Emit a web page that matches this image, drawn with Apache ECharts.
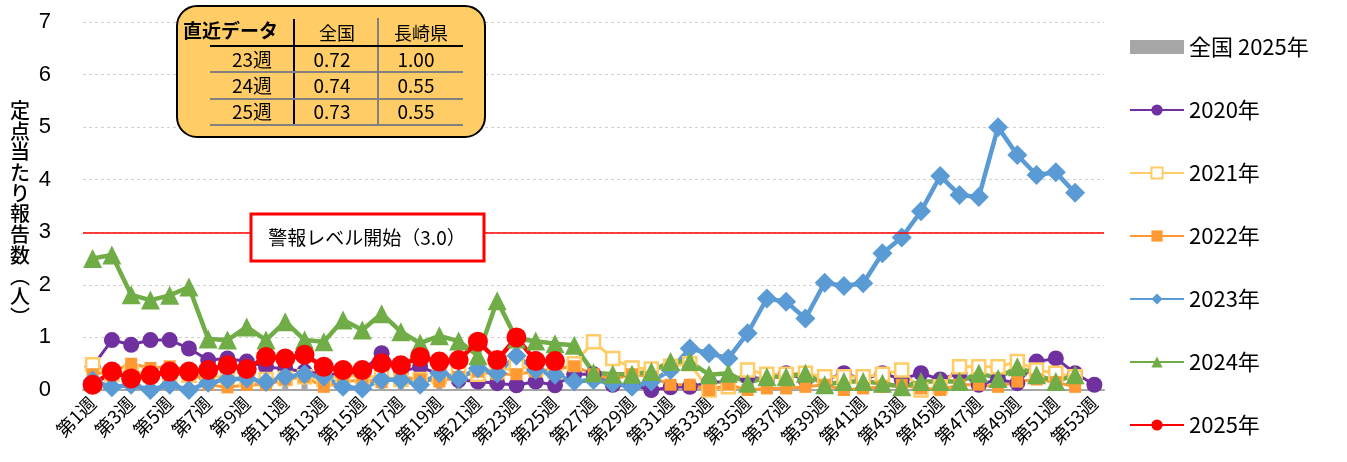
<!DOCTYPE html>
<html><head><meta charset="utf-8">
<script src="https://cdn.jsdelivr.net/npm/echarts@6/dist/echarts.min.js"></script>
<style>html,body{margin:0;padding:0;background:#fff}#c{width:1347px;height:462px}</style>
</head><body><div id="c"></div>
<script>
const weeks = ['第1週','第2週','第3週','第4週','第5週','第6週','第7週','第8週','第9週','第10週',
'第11週','第12週','第13週','第14週','第15週','第16週','第17週','第18週','第19週','第20週',
'第21週','第22週','第23週','第24週','第25週','第26週','第27週','第28週','第29週','第30週',
'第31週','第32週','第33週','第34週','第35週','第36週','第37週','第38週','第39週','第40週',
'第41週','第42週','第43週','第44週','第45週','第46週','第47週','第48週','第49週','第50週',
'第51週','第52週','第53週'];
const yTicks = [0,1,2,3,4,5,6,7];
const national2025 = [0.2,0.2,0.2,0.2,0.2,0.22,0.25,0.27,0.28,0.3,0.32,0.33,0.33,0.32,0.3,0.31,0.35,0.4,0.45,0.5,0.58,0.65,0.72,0.74,0.73];
const y2020 = [0.45,0.95,0.86,0.95,0.95,0.79,0.57,0.6,0.54,0.44,0.4,0.35,0.3,0.3,0.35,0.7,0.35,0.44,0.3,0.19,0.16,0.13,0.09,0.16,0.09,0.3,0.3,0.1,0.1,0.0,0.05,0.06,0.15,0.15,0.25,0.2,0.32,0.2,0.19,0.32,0.2,0.32,0.2,0.32,0.2,0.32,0.1,0.2,0.13,0.54,0.6,0.32,0.1];
const y2021 = [0.48,0.3,0.35,0.3,0.3,0.28,0.25,0.25,0.2,0.2,0.22,0.25,0.2,0.28,0.25,0.25,0.2,0.2,0.25,0.3,0.3,0.35,0.45,0.4,0.35,0.5,0.92,0.6,0.42,0.4,0.45,0.5,0.0,0.06,0.38,0.3,0.3,0.32,0.25,0.25,0.25,0.3,0.38,0.0,0.06,0.44,0.44,0.44,0.54,0.38,0.32,0.25,null];
const y2022 = [0.3,0.35,0.5,0.42,0.45,0.38,0.1,0.05,0.1,0.1,0.2,0.25,0.06,0.15,0.2,0.15,0.25,0.2,0.16,0.25,0.35,0.3,0.3,0.35,0.4,0.45,0.3,0.2,0.3,0.25,0.1,0.1,0.0,0.1,0.0,0.03,0.03,0.06,0.1,0.0,0.03,0.06,0.1,0.03,0.0,0.1,0.1,0.06,0.16,0.2,0.15,0.06,null];
const y2023 = [0.18,0.05,0.1,0.0,0.1,0.0,0.14,0.2,0.22,0.15,0.25,0.3,0.25,0.06,0.03,0.2,0.19,0.1,0.32,0.22,0.41,0.32,0.65,0.38,0.29,0.16,0.19,0.13,0.06,0.16,0.38,0.79,0.7,0.6,1.08,1.74,1.68,1.36,2.04,1.98,2.03,2.6,2.9,3.4,4.07,3.71,3.67,5.0,4.47,4.09,4.14,3.75,null];
const y2024 = [2.5,2.57,1.81,1.71,1.8,1.96,0.97,0.95,1.2,0.95,1.3,0.95,0.92,1.33,1.14,1.45,1.11,0.89,1.03,0.93,0.65,1.7,0.97,0.93,0.88,0.85,0.33,0.3,0.3,0.35,0.54,0.54,0.29,0.32,0.13,0.25,0.25,0.32,0.1,0.16,0.16,0.13,0.06,0.16,0.16,0.16,0.32,0.22,0.44,0.29,0.16,0.29,null];
const y2025 = [0.1,0.35,0.22,0.28,0.35,0.35,0.38,0.47,0.4,0.63,0.6,0.67,0.44,0.38,0.38,0.51,0.47,0.63,0.54,0.57,0.92,0.57,1.0,0.55,0.55];
const THRESHOLD = 3.0;
const tableHeader = ['直近データ','全国','長崎県'];
const tableRows = [['23週','0.72','1.00'],['24週','0.74','0.55'],['25週','0.73','0.55']];
const yAxisTitle = ['定','点','当','た','り','報','告','数','︵','人','︶'];

const FF = '"Noto Sans CJK JP", sans-serif';
const chart = echarts.init(document.getElementById('c'), null, {renderer:'canvas'});

function lineSeries(name, data, color, symbol, size, width, extra) {
  return Object.assign({
    name, type:'line', data, symbol, symbolSize:size, showSymbol:true, showAllSymbol:true,
    lineStyle:{color, width}, itemStyle:{color}, connectNulls:false
  }, extra||{});
}

const graphic = [];
graphic.push({type:'rect', shape:{x:177,y:6,width:308,height:131,r:20}, style:{fill:'#FFCC66',stroke:'#000',lineWidth:2}, z:100});
graphic.push({type:'line', shape:{x1:294,y1:19,x2:294,y2:126}, style:{stroke:'#000',lineWidth:2}, z:101});
graphic.push({type:'line', shape:{x1:378,y1:18,x2:378,y2:126}, style:{stroke:'#808080',lineWidth:2}, z:101});
graphic.push({type:'line', shape:{x1:210,y1:46,x2:463,y2:46}, style:{stroke:'#000',lineWidth:2}, z:101});
[72,99,125].forEach(y=>graphic.push({type:'line', shape:{x1:210,y1:y,x2:463,y2:y}, style:{stroke:'#808080',lineWidth:2}, z:101}));
graphic.push({type:'text', x:183, y:31, style:{text:tableHeader[0], font:'bold 19px '+FF, fill:'#000', textVerticalAlign:'middle', textAlign:'left'}, z:102});
graphic.push({type:'text', x:337, y:33, style:{text:tableHeader[1], font:'18px '+FF, fill:'#000', textVerticalAlign:'middle', textAlign:'center'}, z:102});
graphic.push({type:'text', x:421, y:33, style:{text:tableHeader[2], font:'18px '+FF, fill:'#000', textVerticalAlign:'middle', textAlign:'center'}, z:102});
const rowY = [60,86,112];
tableRows.forEach((r,i)=>{
  graphic.push({type:'text', x:252, y:rowY[i], style:{text:r[0], font:'19px '+FF, fill:'#000', textVerticalAlign:'middle', textAlign:'center'}, z:102});
  graphic.push({type:'text', x:332, y:rowY[i], style:{text:r[1], font:'19px '+FF, fill:'#000', textVerticalAlign:'middle', textAlign:'center'}, z:102});
  graphic.push({type:'text', x:416, y:rowY[i], style:{text:r[2], font:'19px '+FF, fill:'#000', textVerticalAlign:'middle', textAlign:'center'}, z:102});
});
graphic.push({type:'rect', shape:{x:251,y:214,width:233,height:47}, style:{fill:'#fff',stroke:'#FF0000',lineWidth:3}, z:100});
graphic.push({type:'text', x:367, y:238, style:{text:'警報レベル開始（'+THRESHOLD.toFixed(1)+'）', font:'19px '+FF, fill:'#000', textVerticalAlign:'middle', textAlign:'center'}, z:102});
graphic.push({type:'text', x:20, y:100, style:{text:yAxisTitle.join('\n'), font:'500 20px '+FF, lineHeight:20.7, fill:'#000', textAlign:'center', textVerticalAlign:'top'}, z:102});

chart.setOption({
  animation:false,
  textStyle:{fontFamily:FF},
  grid:{left:83, right:243, top:22, bottom:72, containLabel:false},
  legend:{
    orient:'vertical', left:1124, top:31, itemWidth:54, itemHeight:14, itemGap:41,
    textStyle:{fontSize:22, color:'#000', fontFamily:FF},
    data:[{name:'全国 2025年', icon:'rect'},'2020年','2021年','2022年','2023年','2024年','2025年']
  },
  xAxis:{
    type:'category', data:weeks, boundaryGap:true,
    axisLine:{show:true, lineStyle:{color:'#A6A6A6', width:2}},
    axisTick:{show:false},
    axisLabel:{interval:1, rotate:45, fontSize:18.5, color:'#000', margin:10, fontFamily:FF}
  },
  yAxis:{
    type:'value', min:yTicks[0], max:yTicks[yTicks.length-1], interval:1,
    axisLine:{show:false}, axisTick:{show:false},
    axisLabel:{fontSize:22, color:'#000', margin:32, fontFamily:'"Liberation Sans", sans-serif'},
    splitLine:{show:true, lineStyle:{color:'#D0D0D0', type:[3,3], width:1}}
  },
  graphic,
  series:[
    {name:'全国 2025年', type:'bar', data:national2025, barWidth:6, itemStyle:{color:'#A6A6A6'}, z:1,
     markLine:{silent:true, symbol:['none','none'], label:{show:false}, lineStyle:{color:'#FF0000', width:1.5, type:'solid'}, data:[{yAxis:THRESHOLD}]}},
    lineSeries('2020年', y2020, '#7030A0', 'circle', 16, 3),
    lineSeries('2021年', y2021, '#FFCC66', 'rect', 13, 3, {itemStyle:{color:'#fff', borderColor:'#FFCC66', borderWidth:2.5}}),
    lineSeries('2022年', y2022, '#FF9933', 'rect', 12, 3),
    lineSeries('2023年', y2023, '#5B9BD5', 'diamond', 20, 4.5),
    lineSeries('2024年', y2024, '#70AD47', 'triangle', 19, 4.5),
    lineSeries('2025年', y2025, '#FF0000', 'circle', 20, 4.5)
  ]
});
</script></body></html>
